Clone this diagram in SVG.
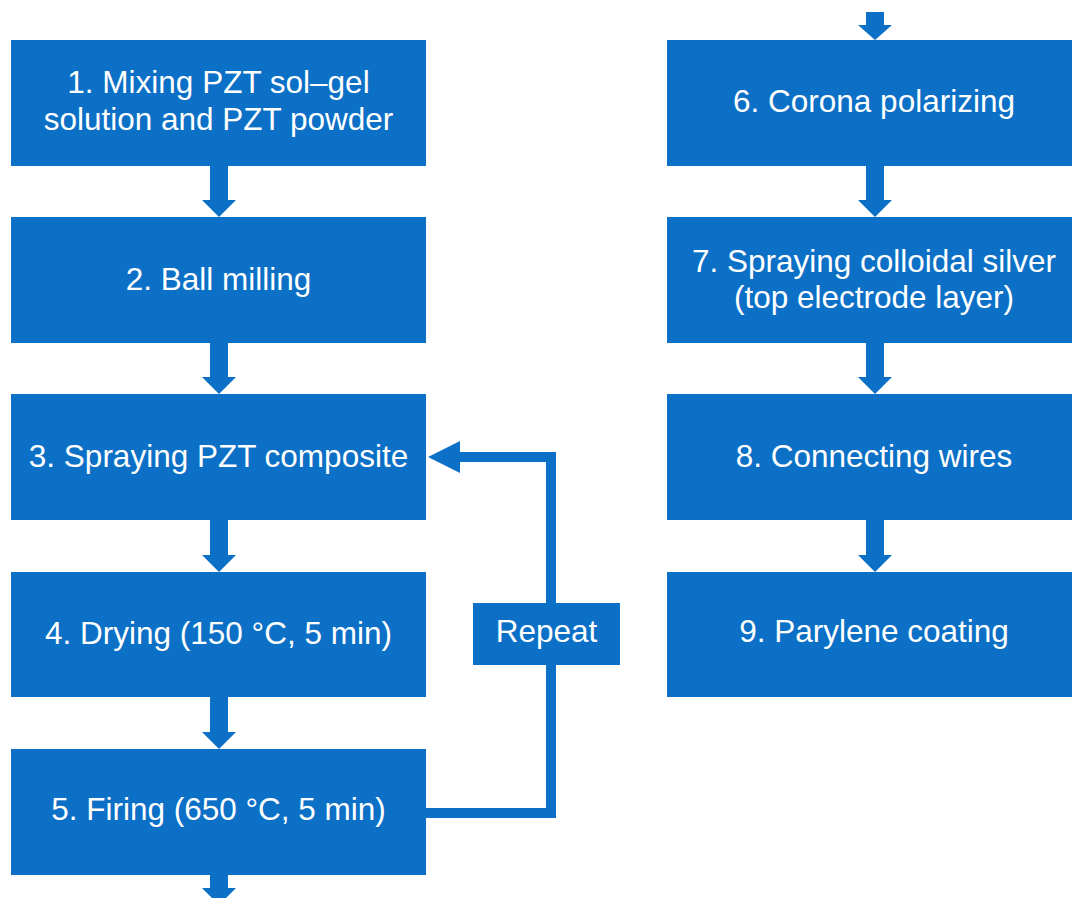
<svg xmlns="http://www.w3.org/2000/svg" width="1072" height="898" viewBox="0 0 1072 898">
<style>
.box{fill:#0B70C6;}
.lbl{fill:#ffffff;font-family:"Liberation Sans",Arial,sans-serif;font-size:31.5px;text-anchor:middle;}
.arw{fill:#0B70C6;}
.line{fill:none;stroke:#0B70C6;stroke-width:10;}
</style>
<rect width="1072" height="898" fill="#ffffff"/>
<g id="connectors">
<polygon class="arw" points="866,12 884,12 884,25 892,25 875,40 858,25 866,25"/>
<polygon class="arw" points="210,166 228,166 228,200 236,200 219,217 202,200 210,200"/>
<polygon class="arw" points="210,343 228,343 228,377 236,377 219,394 202,377 210,377"/>
<polygon class="arw" points="210,520 228,520 228,555 236,555 219,572 202,555 210,555"/>
<polygon class="arw" points="210,697 228,697 228,732 236,732 219,749 202,732 210,732"/>
<polygon class="arw" points="210,875 228,875 228,888 236,888 219,905 202,888 210,888"/>
<polygon class="arw" points="866,166 884,166 884,200 892,200 875,217 858,200 866,200"/>
<polygon class="arw" points="866,343 884,343 884,377 892,377 875,394 858,377 866,377"/>
<polygon class="arw" points="866,520 884,520 884,555 892,555 875,572 858,555 866,555"/>
<polyline class="line" points="426,813 551,813 551,457 458,457"/>
<polygon class="arw" points="428,457 460,441 460,473"/>
</g>
<g id="n1"><rect class="box" x="11" y="40" width="415" height="126"/><text class="lbl" x="218.5" y="93">1. Mixing PZT sol–gel</text><text class="lbl" x="218.5" y="130">solution and PZT powder</text></g>
<g id="n2"><rect class="box" x="11" y="217" width="415" height="126"/><text class="lbl" x="218.5" y="290">2. Ball milling</text></g>
<g id="n3"><rect class="box" x="11" y="394" width="415" height="126"/><text class="lbl" x="218.5" y="467">3. Spraying PZT composite</text></g>
<g id="n4"><rect class="box" x="11" y="572" width="415" height="125"/><text class="lbl" x="218.5" y="644">4. Drying (150 °C, 5 min)</text></g>
<g id="n5"><rect class="box" x="11" y="749" width="415" height="126"/><text class="lbl" x="218.5" y="820">5. Firing (650 °C, 5 min)</text></g>
<g id="repeat"><rect class="box" x="473" y="603" width="147" height="62"/><text class="lbl" x="546.5" y="642">Repeat</text></g>
<g id="n6"><rect class="box" x="667" y="40" width="414" height="126"/><text class="lbl" x="874" y="112">6. Corona polarizing</text></g>
<g id="n7"><rect class="box" x="667" y="217" width="414" height="126"/><text class="lbl" x="874" y="272">7. Spraying colloidal silver</text><text class="lbl" x="874" y="308">(top electrode layer)</text></g>
<g id="n8"><rect class="box" x="667" y="394" width="414" height="126"/><text class="lbl" x="874" y="467">8. Connecting wires</text></g>
<g id="n9"><rect class="box" x="667" y="572" width="414" height="125"/><text class="lbl" x="874" y="642">9. Parylene coating</text></g>
</svg>
